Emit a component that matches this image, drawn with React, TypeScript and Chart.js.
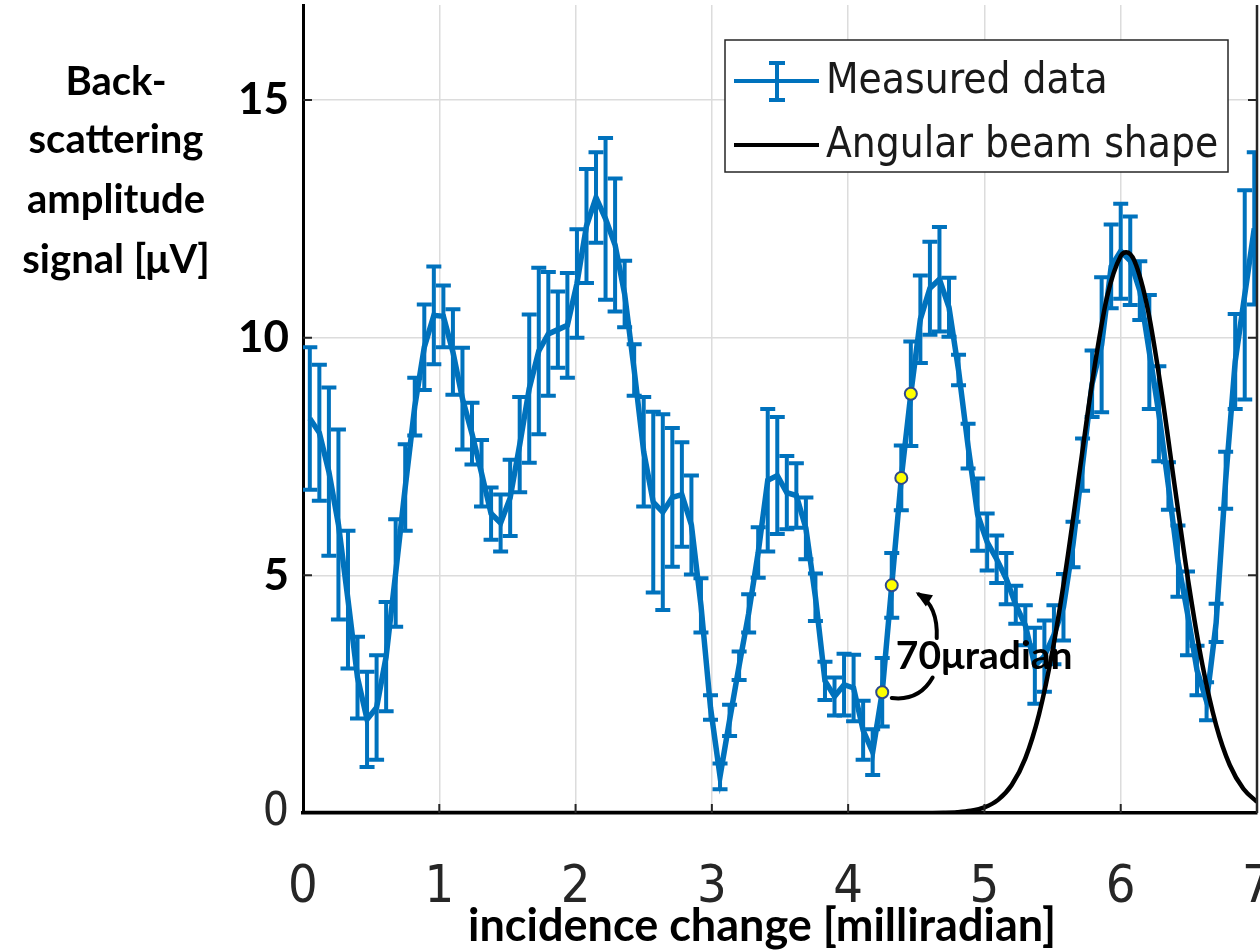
import React, { useEffect, useRef } from 'react';
import { Chart, registerables } from 'chart.js';

Chart.register(...registerables);

// incidence change [milliradian] of each measured sample (70 µrad steps)
const angleX = [
  0.05, 0.12, 0.19, 0.26, 0.33, 0.40, 0.47, 0.54, 0.61, 0.68,
  0.75, 0.82, 0.89, 0.96, 1.03, 1.10, 1.17, 1.24, 1.31, 1.38,
  1.45, 1.52, 1.59, 1.66, 1.73, 1.80, 1.87, 1.94, 2.01, 2.08,
  2.15, 2.22, 2.29, 2.36, 2.43, 2.50, 2.57, 2.64, 2.71, 2.78,
  2.85, 2.92, 2.99, 3.06, 3.13, 3.20, 3.27, 3.34, 3.41, 3.48,
  3.55, 3.62, 3.69, 3.76, 3.83, 3.90, 3.97, 4.04, 4.11, 4.18,
  4.25, 4.32, 4.39, 4.46, 4.53, 4.60, 4.67, 4.74, 4.81, 4.88,
  4.95, 5.02, 5.09, 5.16, 5.23, 5.30, 5.37, 5.44, 5.51, 5.58,
  5.65, 5.72, 5.79, 5.86, 5.93, 6.00, 6.07, 6.14, 6.21, 6.28,
  6.35, 6.42, 6.49, 6.56, 6.63, 6.70, 6.77, 6.84, 6.91, 6.98,
];

// back-scattering amplitude signal [µV]
const signal = [
  8.3, 8.0, 7.18, 6.07, 4.49, 2.85, 1.97, 2.22, 3.29, 5.05,
  6.85, 8.55, 9.8, 10.47, 10.45, 9.7, 8.72, 7.98, 7.15, 6.3,
  6.1, 6.63, 7.75, 8.93, 9.72, 10.08, 10.17, 10.26, 11.14, 12.35,
  12.95, 12.5, 11.95, 10.92, 9.32, 7.6, 6.54, 6.33, 6.64, 6.7,
  6.06, 4.37, 2.22, 0.77, 1.95, 3.1, 4.2, 5.48, 7.0, 7.1,
  6.74, 6.68, 5.99, 4.54, 2.78, 2.45, 2.7, 2.63, 1.74, 1.28,
  2.54, 4.79, 7.05, 8.82, 10.39, 11.04, 11.23, 10.64, 9.32, 7.72,
  6.28, 5.7, 5.34, 4.93, 4.38, 3.95, 3.1, 3.3, 3.75, 4.33,
  5.65, 7.33, 9.03, 9.85, 11.5, 11.82, 11.62, 10.99, 9.7, 8.4,
  6.88, 5.3, 4.2, 3.0, 2.35, 4.0, 7.0, 9.5, 10.9, 12.3,
];

// half length of each error bar [µV]
const signalErr = [
  1.5, 1.43, 1.77, 2.0, 1.45, 0.86, 1.0, 1.1, 1.15, 1.13,
  0.91, 0.61, 0.9, 1.03, 0.65, 0.9, 1.07, 0.65, 0.7, 0.55,
  0.6, 0.8, 1.0, 1.56, 1.75, 1.3, 0.8, 1.1, 1.14, 1.2,
  0.95, 1.7, 1.4, 0.7, 0.54, 1.15, 1.9, 2.06, 1.46, 1.1,
  1.04, 0.57, 0.26, 0.27, 0.33, 0.3, 0.4, 0.53, 1.5, 1.23,
  0.77, 0.68, 0.65, 0.5, 0.4, 0.4, 0.65, 0.7, 0.62, 0.48,
  0.72, 0.68, 0.68, 1.1, 0.92, 0.98, 1.1, 0.62, 0.32, 0.47,
  0.76, 0.6, 0.5, 0.54, 0.4, 0.42, 0.8, 0.75, 0.62, 0.7,
  0.48, 0.55, 0.7, 1.42, 0.88, 1.0, 0.93, 0.62, 1.2, 1.0,
  0.5, 0.75, 0.88, 0.52, 0.4, 0.4, 0.6, 1.0, 2.2, 1.6,
];

// angular beam shape
const beamX = [
  0, 4.5, 4.6, 4.7, 4.8, 4.9, 5.0, 5.1, 5.2, 5.3, 5.4, 5.5, 5.6, 5.7,
  5.8, 5.9, 6.0, 6.04, 6.1, 6.2, 6.3, 6.4, 6.5, 6.6, 6.7, 6.8, 6.9, 7.0,
];
const beamY = [
  0, 0, 0.002, 0.006, 0.017, 0.047, 0.119, 0.276, 0.588, 1.15, 2.07, 3.42, 5.18, 7.22,
  9.24, 10.86, 11.72, 11.8, 11.62, 10.58, 8.85, 6.8, 4.8, 3.11, 1.85, 1.01, 0.51, 0.235,
];

const xTicks = [0, 1, 2, 3, 4, 5, 6, 7];
const yTicks = [0, 5, 10, 15];
const markedIdx = [60, 61, 62, 63];
const yTitleLines = ['Back-', 'scattering', 'amplitude', 'signal [μV]'];
const xTitle = 'incidence change [milliradian]';
const legendLabels = ['Measured data', 'Angular beam shape'];
const annotationText = '70μradian';

const BLUE = '#0072BD';
const NARROW = '"Liberation Sans Narrow", "DejaVu Sans Condensed", "Liberation Sans", Arial, sans-serif';
const BOLD = 'Lato, "Open Sans", sans-serif';

const errorBarsPlugin = {
  id: 'errorBars',
  beforeDatasetsDraw(chart: any) {
    const { ctx, chartArea, scales } = chart;
    const x = scales.x;
    const y = scales.y;
    ctx.save();
    ctx.beginPath();
    ctx.rect(chartArea.left, chartArea.top - 2, chartArea.right - chartArea.left, chartArea.bottom - chartArea.top + 4);
    ctx.clip();
    ctx.strokeStyle = BLUE;
    ctx.lineWidth = 4;
    ctx.lineCap = 'butt';
    const cap = 7.5;
    for (let i = 0; i < angleX.length; i++) {
      const px = x.getPixelForValue(angleX[i]);
      const top = y.getPixelForValue(signal[i] + signalErr[i]);
      const bot = y.getPixelForValue(signal[i] - signalErr[i]);
      ctx.beginPath();
      ctx.moveTo(px, top);
      ctx.lineTo(px, bot);
      ctx.moveTo(px - cap, top);
      ctx.lineTo(px + cap, top);
      ctx.moveTo(px - cap, bot);
      ctx.lineTo(px + cap, bot);
      ctx.stroke();
    }
    ctx.restore();
  },
};

const overlayPlugin = {
  id: 'overlay',
  afterDraw(chart: any) {
    const { ctx, chartArea, scales } = chart;
    const x = scales.x;
    const y = scales.y;
    ctx.save();

    // right box edge
    ctx.strokeStyle = '#262626';
    ctx.lineWidth = 2.5;
    ctx.beginPath();
    ctx.moveTo(chartArea.right, chartArea.top);
    ctx.lineTo(chartArea.right, chartArea.bottom);
    ctx.stroke();

    // inward tick marks
    ctx.lineWidth = 2;
    ctx.beginPath();
    yTicks.forEach((v) => {
      if (v === 0) return;
      const py = y.getPixelForValue(v);
      ctx.moveTo(chartArea.left, py);
      ctx.lineTo(chartArea.left + 9, py);
      ctx.moveTo(chartArea.right, py);
      ctx.lineTo(chartArea.right - 9, py);
    });
    xTicks.forEach((v) => {
      if (v === xTicks[0] || v === xTicks[xTicks.length - 1]) return;
      const px = x.getPixelForValue(v);
      ctx.moveTo(px, chartArea.bottom);
      ctx.lineTo(px, chartArea.bottom - 9);
    });
    ctx.stroke();

    // yellow marked samples
    markedIdx.forEach((i) => {
      const px = x.getPixelForValue(angleX[i]);
      const py = y.getPixelForValue(signal[i]);
      ctx.beginPath();
      ctx.arc(px, py, 6, 0, Math.PI * 2);
      ctx.fillStyle = '#FFFF00';
      ctx.fill();
      ctx.lineWidth = 2;
      ctx.strokeStyle = '#2E4A8C';
      ctx.stroke();
    });

    // annotation arrows
    const P = (vx: number, vy: number) => [x.getPixelForValue(vx), y.getPixelForValue(vy)];
    ctx.strokeStyle = '#000';
    ctx.lineWidth = 4;
    ctx.lineCap = 'round';
    const [l0x, l0y] = P(4.32, 2.42);
    const [l1x, l1y] = P(4.52, 2.35);
    const [l2x, l2y] = P(4.62, 2.85);
    ctx.beginPath();
    ctx.moveTo(l0x, l0y);
    ctx.quadraticCurveTo(l1x, l1y, l2x, l2y);
    ctx.stroke();
    const [u0x, u0y] = P(4.65, 3.68);
    const [u1x, u1y] = P(4.66, 4.35);
    const [u2x, u2y] = P(4.52, 4.6);
    ctx.beginPath();
    ctx.moveTo(u0x, u0y);
    ctx.quadraticCurveTo(u1x, u1y, u2x, u2y);
    ctx.stroke();
    // arrow head
    const ang = Math.atan2(u2y - u1y, u2x - u1x);
    const hl = 14;
    ctx.beginPath();
    ctx.moveTo(u2x + Math.cos(ang) * 4, u2y + Math.sin(ang) * 4);
    ctx.lineTo(u2x - Math.cos(ang - 0.5) * hl, u2y - Math.sin(ang - 0.5) * hl);
    ctx.lineTo(u2x - Math.cos(ang + 0.5) * hl, u2y - Math.sin(ang + 0.5) * hl);
    ctx.closePath();
    ctx.fillStyle = '#000';
    ctx.fill();

    const [tx, ty] = P(4.35, 3.3);
    ctx.font = `700 39px ${BOLD}`;
    ctx.fillStyle = '#000';
    ctx.textAlign = 'left';
    ctx.textBaseline = 'middle';
    ctx.fillText(annotationText, tx, ty);

    // legend
    const lx = 725, ly = 40, lw = 503, lh = 132;
    ctx.fillStyle = '#fff';
    ctx.fillRect(lx, ly, lw, lh);
    ctx.strokeStyle = '#262626';
    ctx.lineWidth = 1.5;
    ctx.strokeRect(lx, ly, lw, lh);
    ctx.lineCap = 'butt';
    ctx.strokeStyle = BLUE;
    ctx.lineWidth = 4;
    ctx.beginPath();
    ctx.moveTo(734, 81);
    ctx.lineTo(819, 81);
    ctx.moveTo(777, 63);
    ctx.lineTo(777, 100);
    ctx.moveTo(769, 63);
    ctx.lineTo(785, 63);
    ctx.moveTo(769, 100);
    ctx.lineTo(785, 100);
    ctx.stroke();
    ctx.strokeStyle = '#000';
    ctx.beginPath();
    ctx.moveTo(734, 145);
    ctx.lineTo(819, 145);
    ctx.stroke();
    ctx.font = `42px ${NARROW}`;
    ctx.fillStyle = '#1a1a1a';
    ctx.textBaseline = 'middle';
    ctx.fillText(legendLabels[0], 826, 82);
    ctx.fillText(legendLabels[1], 826, 146);

    // axis titles
    ctx.fillStyle = '#000';
    ctx.font = `700 40px ${BOLD}`;
    ctx.textAlign = 'center';
    const tyPos = [82, 140, 200, 260];
    yTitleLines.forEach((t, i) => ctx.fillText(t, 116, tyPos[i]));
    ctx.font = `700 45px ${BOLD}`;
    ctx.fillText(xTitle, 762, 926);

    ctx.restore();
  },
};

export default function App() {
  const canvasRef = useRef<HTMLCanvasElement | null>(null);

  useEffect(() => {
    let chart: Chart | null = null;
    let cancelled = false;
    const build = () => {
      if (cancelled || !canvasRef.current) return;
      chart = new Chart(canvasRef.current, {
        type: 'line',
        data: {
          datasets: [
            {
              label: legendLabels[0],
              data: angleX.map((v, i) => ({ x: v, y: signal[i] })),
              borderColor: BLUE,
              backgroundColor: BLUE,
              borderWidth: 5.5,
              pointRadius: 0,
              tension: 0,
              order: 2,
            },
            {
              label: legendLabels[1],
              data: beamX.map((v, i) => ({ x: v, y: beamY[i] })),
              borderColor: '#000',
              backgroundColor: '#000',
              borderWidth: 4.5,
              pointRadius: 0,
              cubicInterpolationMode: 'monotone',
              order: 1,
            },
          ],
        },
        options: {
          responsive: false,
          animation: false,
          devicePixelRatio: 1,
          layout: { padding: { left: 0, right: 3, top: 5, bottom: 0 } },
          plugins: { legend: { display: false }, tooltip: { enabled: false } },
          scales: {
            x: {
              type: 'linear',
              min: 0,
              max: 7,
              afterBuildTicks: (s: any) => {
                s.ticks = xTicks.map((v) => ({ value: v }));
              },
              afterFit: (s: any) => {
                s.height = 139;
                s.paddingLeft = 0;
                s.paddingRight = 0;
                s.paddingTop = 0;
                s.paddingBottom = 0;
              },
              ticks: {
                font: { family: NARROW, size: 52 },
                color: '#262626',
                padding: 44,
                maxRotation: 0,
                callback: (v: any) => String(v),
              },
              grid: { color: '#dcdcdc', lineWidth: 1.5, drawTicks: false },
              border: { color: '#000', width: 3.5 },
            },
            y: {
              type: 'linear',
              min: 0,
              max: 17,
              afterBuildTicks: (s: any) => {
                s.ticks = yTicks.map((v) => ({ value: v }));
              },
              afterFit: (s: any) => {
                s.width = 303;
                s.paddingLeft = 0;
                s.paddingRight = 0;
                s.paddingTop = 0;
                s.paddingBottom = 0;
              },
              ticks: {
                font: (c: any) =>
                  c.tick && c.tick.value === 0
                    ? { family: NARROW, size: 46, weight: 'normal' }
                    : { family: BOLD, size: 44, weight: 'bold' },
                color: (c: any) => (c.tick && c.tick.value === 0 ? '#262626' : '#000'),
                padding: 14,
                callback: (v: any) => String(v),
              },
              grid: { color: '#dcdcdc', lineWidth: 1.5, drawTicks: false },
              border: { color: '#000', width: 3 },
            },
          },
        },
        plugins: [errorBarsPlugin, overlayPlugin],
      } as any);
    };
    const fontsReady = (document as any).fonts
      ? Promise.all([
          (document as any).fonts.load(`700 34px Lato`),
          (document as any).fonts.load(`46px "Liberation Sans Narrow"`),
          (document as any).fonts.load(`46px "Liberation Sans"`),
        ]).catch(() => null)
      : Promise.resolve(null);
    fontsReady.then(build);
    return () => {
      cancelled = true;
      if (chart) chart.destroy();
    };
  }, []);

  return (
    <div style={{ position: 'fixed', left: 0, top: 0, width: 1260, height: 952, background: '#fff' }}>
      <canvas ref={canvasRef} width={1260} height={952} style={{ display: 'block' }} />
    </div>
  );
}
